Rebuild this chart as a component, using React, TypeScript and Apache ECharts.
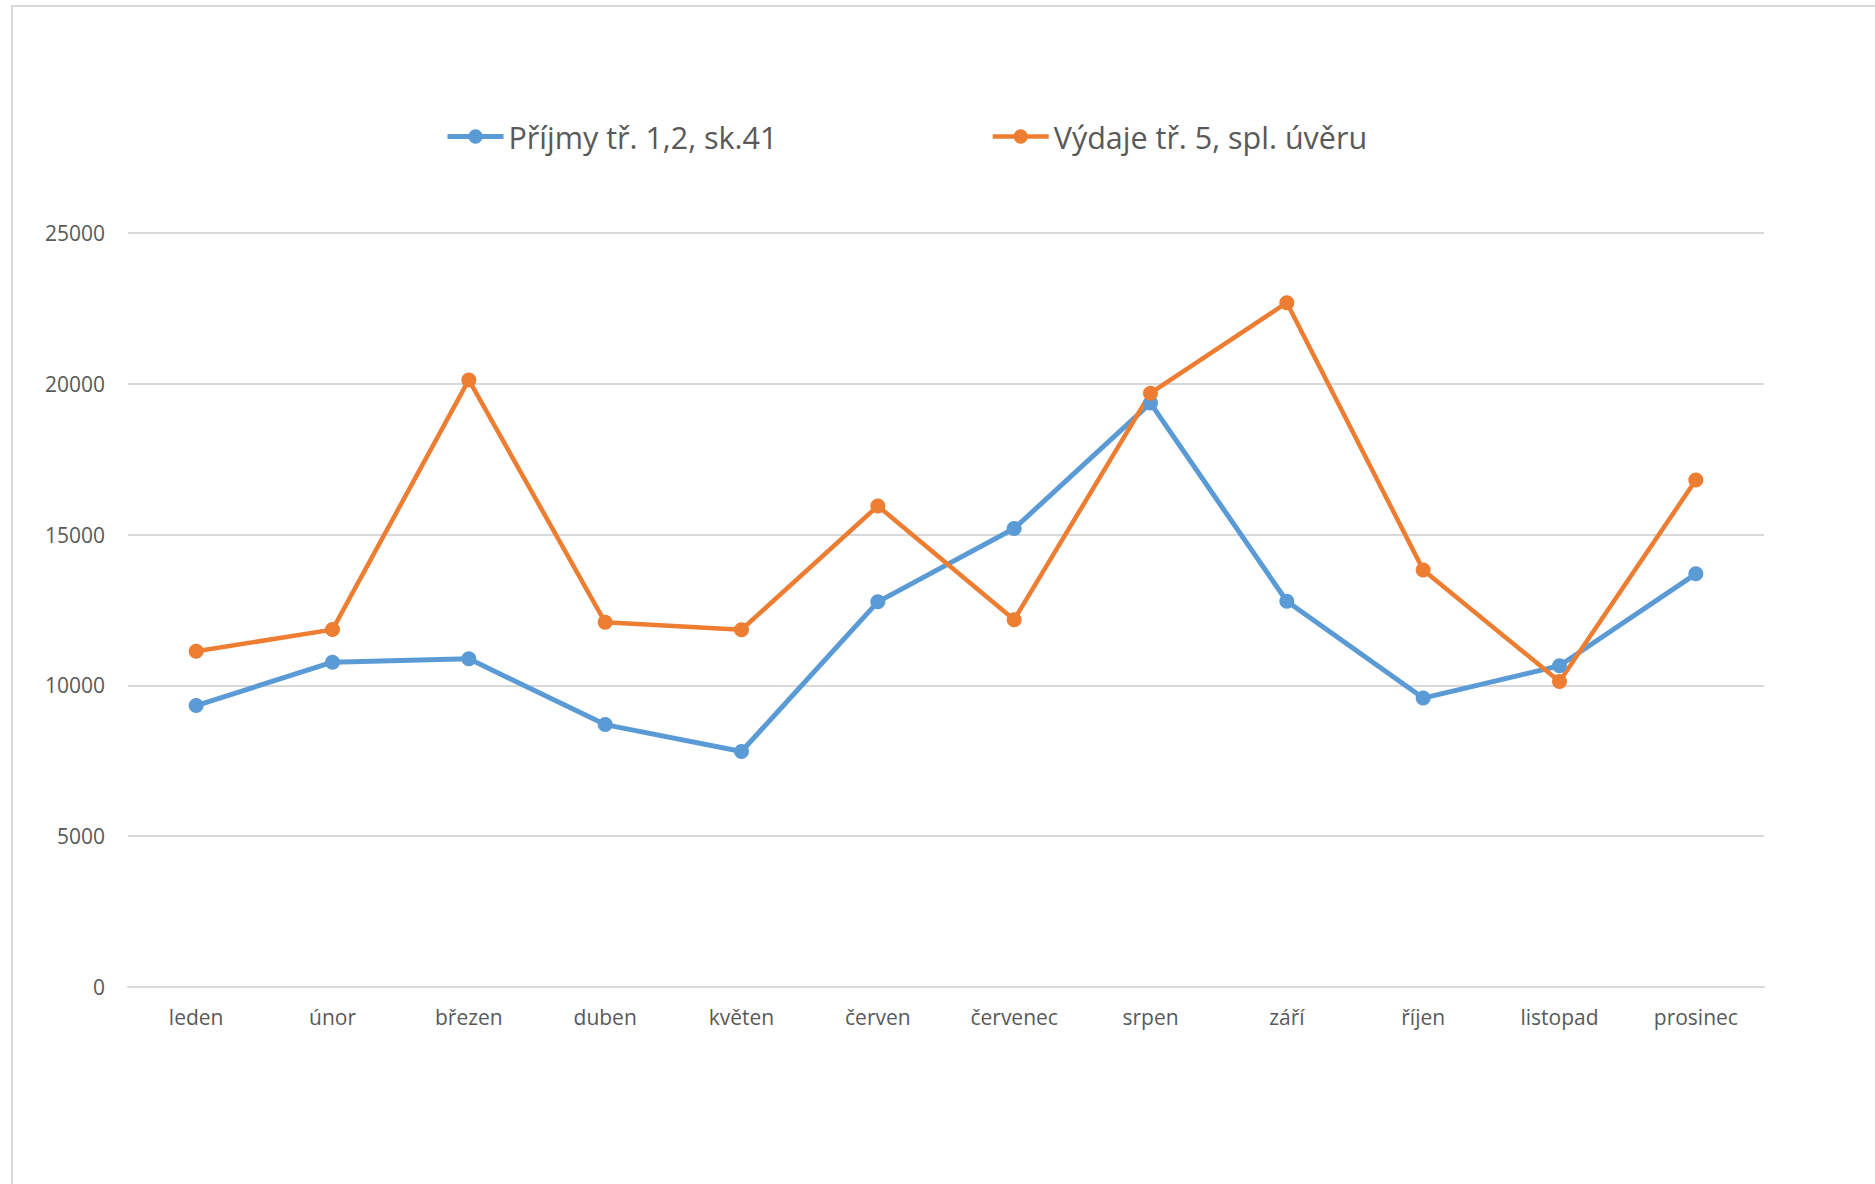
import React, { useEffect, useRef } from "react";
import * as echarts from "echarts";

const months = ["leden", "únor", "březen", "duben", "květen", "červen", "červenec", "srpen", "září", "říjen", "listopad", "prosinec"];
const seriesNames = ["Příjmy tř. 1,2, sk.41", "Výdaje tř. 5, spl. úvěru"];
const prijmy = [9330, 10770, 10880, 8700, 7810, 12770, 15200, 19360, 12790, 9580, 10650, 13700];
const vydaje = [11130, 11850, 20130, 12090, 11845, 15950, 12180, 19690, 22690, 13830, 10130, 16810];
const colors = ["#5B9BD5", "#ED7D31"];
const lineWidths = [5, 4.5];

const font = "'Open Sans', sans-serif";

export default function App() {
  const ref = useRef<HTMLDivElement>(null);
  useEffect(() => {
    if (!ref.current) return;
    const chart = echarts.init(ref.current, null, { renderer: "svg" });
    chart.setOption({
      animation: false,
      backgroundColor: "#ffffff",
      graphic: [
        {
          type: "rect",
          shape: { x: 12, y: 6, width: 2000, height: 1400 },
          style: { fill: "none", stroke: "#D9D9D9", lineWidth: 2 },
          silent: true,
        },
      ],
      legend: {
        left: 440,
        top: 116,
        itemWidth: 56,
        itemHeight: 18,
        itemGap: 213,
        textStyle: { fontFamily: font, fontSize: 30.5, color: "#595959" },
        data: seriesNames.map((n, i) => ({
          name: n,
          lineStyle: { width: lineWidths[i], color: colors[i] },
          itemStyle: { color: colors[i] },
        })),
      },
      grid: { left: 128, right: 111, top: 233, bottom: 197, containLabel: false },
      xAxis: {
        type: "category",
        data: months,
        boundaryGap: true,
        axisLine: { lineStyle: { color: "#D9D9D9", width: 2 } },
        axisTick: { show: false },
        axisLabel: { fontFamily: font, fontSize: 21, color: "#595959", margin: 19 },
      },
      yAxis: {
        type: "value",
        min: 0,
        max: 25000,
        interval: 5000,
        axisLine: { show: false },
        axisTick: { show: false },
        axisLabel: {
          fontFamily: font,
          fontSize: 21,
          color: "#595959",
          margin: 23,
          formatter: (v: number) => String(v),
        },
        splitLine: { lineStyle: { color: "#D9D9D9", width: 2 } },
      },
      series: [
        {
          name: seriesNames[0],
          type: "line",
          data: prijmy,
          symbol: "circle",
          symbolSize: 15,
          itemStyle: { color: colors[0] },
          lineStyle: { color: colors[0], width: lineWidths[0] },
        },
        {
          name: seriesNames[1],
          type: "line",
          data: vydaje,
          symbol: "circle",
          symbolSize: 15,
          itemStyle: { color: colors[1] },
          lineStyle: { color: colors[1], width: lineWidths[1] },
        },
      ],
    });
    return () => chart.dispose();
  }, []);
  return <div ref={ref} style={{ position: "absolute", left: 0, top: 0, width: 1875, height: 1184 }} />;
}
